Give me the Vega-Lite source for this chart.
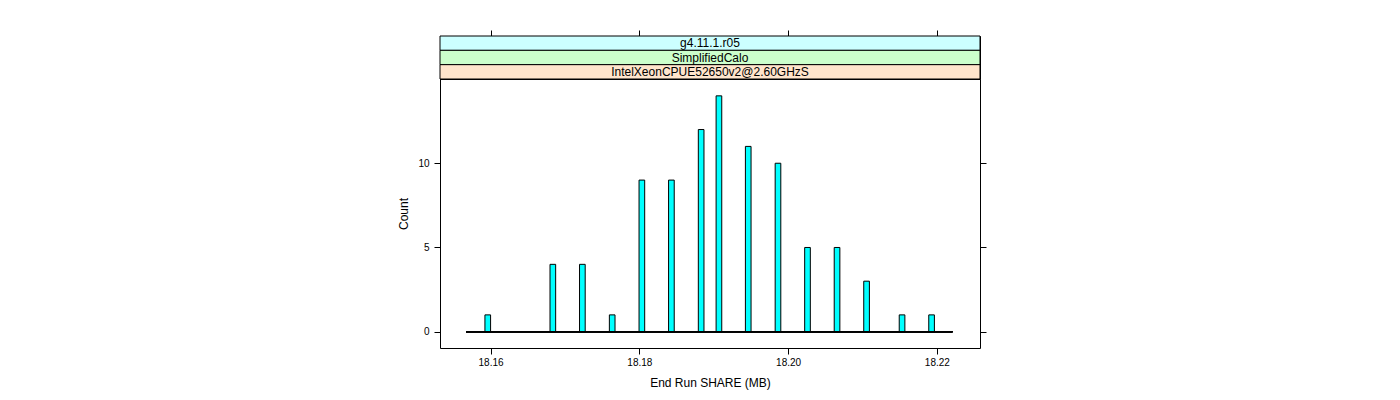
{
  "$schema": "https://vega.github.io/schema/vega-lite/v6.json",
  "padding": {"left": 397, "top": 29, "right": 5, "bottom": 5},
  "background": "white",
  "spacing": 0,
  "bounds": "flush",
  "config": {
    "font": "Liberation Sans",
    "view": {"stroke": "black", "strokeWidth": 1},
    "axis": {
      "domain": false, "grid": false, "tickColor": "black", "tickSize": 6, "tickWidth": 1,
      "labelFont": "Liberation Sans", "labelFontSize": 10, "labelColor": "black", "labelPadding": 3,
      "titleFont": "Liberation Sans", "titleFontSize": 12, "titleFontWeight": "normal", "titleColor": "black"
    }
  },
  "vconcat": [
    {
      "width": 540,
      "height": 43,
      "data": {"values": [
        {"strip": "g4.11.1.r05"},
        {"strip": "SimplifiedCalo"},
        {"strip": "IntelXeonCPUE52650v2@2.60GHzS"}
      ]},
      "layer": [
        {
          "mark": {"type": "rect", "stroke": "black", "strokeWidth": 1},
          "encoding": {
            "x": {"datum": 18.1532, "type": "quantitative",
                  "scale": {"domain": [18.1532, 18.2258], "nice": false, "zero": false},
                  "axis": {"orient": "top", "labels": false, "values": [18.16, 18.18, 18.2, 18.22], "title": null}},
            "x2": {"datum": 18.2258},
            "y": {"field": "strip", "type": "nominal", "sort": ["g4.11.1.r05", "SimplifiedCalo", "IntelXeonCPUE52650v2@2.60GHzS"],
                  "axis": null, "scale": {"paddingInner": 0, "paddingOuter": 0}},
            "fill": {"field": "strip", "type": "nominal",
                     "scale": {"domain": ["g4.11.1.r05", "SimplifiedCalo", "IntelXeonCPUE52650v2@2.60GHzS"],
                               "range": ["#CCFFFF", "#CCFFCC", "#FFE5CC"]},
                     "legend": null}
          }
        },
        {
          "mark": {"type": "text", "fontSize": 12, "color": "black", "font": "Liberation Sans"},
          "encoding": {
            "y": {"field": "strip", "type": "nominal", "sort": ["g4.11.1.r05", "SimplifiedCalo", "IntelXeonCPUE52650v2@2.60GHzS"]},
            "text": {"field": "strip"}
          }
        }
      ]
    },
    {
      "width": 540,
      "height": 269,
      "data": {"values": [
        {"bin_start": 18.15924, "bin_end": 18.16000, "count": 1},
        {"bin_start": 18.16799, "bin_end": 18.16875, "count": 4},
        {"bin_start": 18.17196, "bin_end": 18.17272, "count": 4},
        {"bin_start": 18.17597, "bin_end": 18.17673, "count": 1},
        {"bin_start": 18.17996, "bin_end": 18.18072, "count": 9},
        {"bin_start": 18.18393, "bin_end": 18.18469, "count": 9},
        {"bin_start": 18.18793, "bin_end": 18.18869, "count": 12},
        {"bin_start": 18.19032, "bin_end": 18.19108, "count": 14},
        {"bin_start": 18.19426, "bin_end": 18.19502, "count": 11},
        {"bin_start": 18.19826, "bin_end": 18.19902, "count": 10},
        {"bin_start": 18.20223, "bin_end": 18.20299, "count": 5},
        {"bin_start": 18.20620, "bin_end": 18.20696, "count": 5},
        {"bin_start": 18.21017, "bin_end": 18.21093, "count": 3},
        {"bin_start": 18.21494, "bin_end": 18.21570, "count": 1},
        {"bin_start": 18.21891, "bin_end": 18.21967, "count": 1}
      ]},
      "layer": [
        {
          "mark": {"type": "rect", "fill": "#00FFFF", "stroke": "black", "strokeWidth": 1},
          "encoding": {
            "x": {"field": "bin_start", "type": "quantitative",
                  "scale": {"domain": [18.1532, 18.2258], "nice": false, "zero": false},
                  "axis": {"orient": "bottom", "values": [18.16, 18.18, 18.2, 18.22], "format": ".2f",
                           "title": "End Run SHARE (MB)", "titlePadding": 10}},
            "x2": {"field": "bin_end"},
            "y": {"field": "count", "type": "quantitative",
                  "scale": {"domain": [-0.966, 15.0], "nice": false, "zero": false},
                  "axis": {"orient": "left", "values": [0, 5, 10], "labelAngle": 0, "labelPadding": 5, "title": "Count", "titlePadding": 7}},
            "y2": {"datum": 0}
          }
        },
        {
          "mark": {"type": "rule", "color": "black", "strokeWidth": 1},
          "encoding": {
            "x": {"datum": 18.1567, "type": "quantitative"},
            "x2": {"datum": 18.2221},
            "y": {"datum": 0, "type": "quantitative", "axis": null}
          }
        },
        {
          "mark": {"type": "rule", "opacity": 0},
          "encoding": {
            "y": {"field": "count", "type": "quantitative",
                  "axis": {"orient": "right", "values": [0, 5, 10], "labels": false, "title": null}}
          }
        }
      ],
      "resolve": {"axis": {"y": "independent"}}
    }
  ]
}
